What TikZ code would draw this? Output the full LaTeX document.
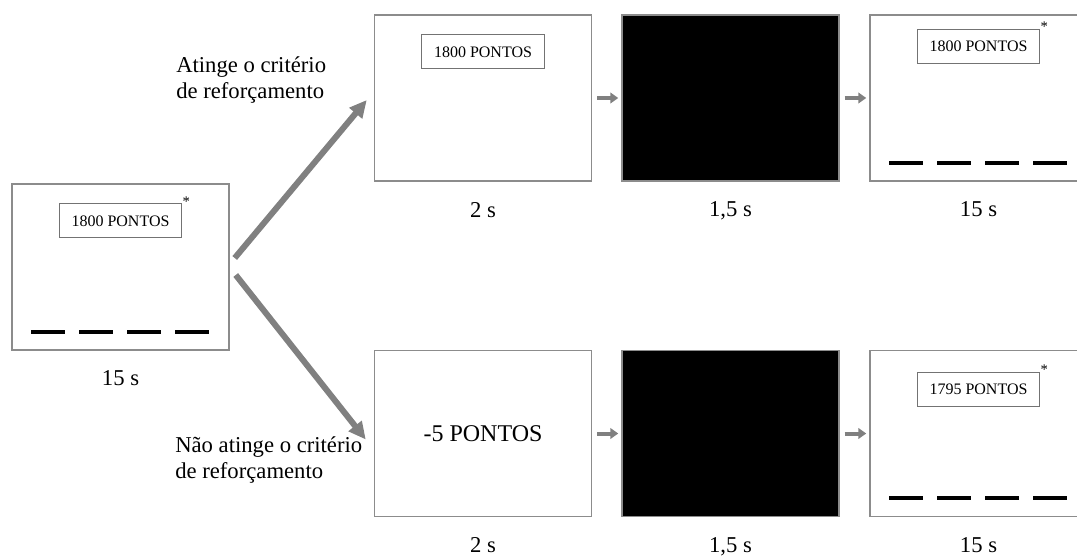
\documentclass[tikz,border=0pt]{standalone}
\usepackage{fontspec}
\setmainfont{LiberationSerif-Regular.ttf}
\newfontfamily\timesface{LiberationSerif-Regular.ttf}
\usetikzlibrary{positioning,calc,arrows.meta}

\begin{document}
\begin{tikzpicture}
[x=0.75pt,y=-0.75pt,%
  every node/.style={font=\timesface},%
  screen/.style={draw=black!45,line width=1.1pt,minimum width=162.75pt,minimum height=124.5pt,inner sep=0pt},%
  blank/.style={screen,fill=black},%
  score/.style={draw=black!55,line width=0.8pt,minimum width=92pt,minimum height=25.5pt,inner sep=0pt,font=\timesface\fontsize{12}{14}\selectfont},%
  star/.style={anchor=south west,inner sep=0pt,yshift=-2.5pt,font=\timesface\fontsize{11}{11}\selectfont},%
  slot/.style={line width=3pt},%
  dur/.style={inner sep=0pt,font=\timesface\fontsize{17}{20}\selectfont},%
  cond/.style={anchor=west,align=left,inner sep=0pt,font=\timesface\fontsize{17}{19.5}\selectfont},%
  bigarrow/.style={black!50,line width=4.5pt,-{Triangle[length=13pt,width=12pt]}},%
  smallarrow/.style={black!50,line width=3pt,-{Triangle[length=6pt,width=8pt]},shorten <=3.75pt,shorten >=2.25pt}]
\clip (0,0) rectangle (1077,556);
\node[screen] (s0) at (120.5,267) {};
\node[screen] (t1) at (483,98) {};
\node[blank] (t2) at (730.5,98) {};
\node[screen] (t3) at (978.5,98) {};
\node[screen,font=\timesface\fontsize{18}{20}\selectfont] (b1) at (483,433.5) {-5 PONTOS};
\node[blank] (b2) at (730.5,433.5) {};
\node[screen] (b3) at (978.5,433.5) {};

\node[score,below=15pt of s0.north] (p0) {1800 PONTOS};
\node[score,below=15pt of t1.north] (p1) {1800 PONTOS};
\node[score,below=11pt of t3.north] (p3) {1800 PONTOS};
\node[score,below=16.5pt of b3.north] (p4) {1795 PONTOS};
\node[star] (a0) at (p0.north east) {*};
\node[star] (a3) at (p3.north east) {*};
\node[star] (a4) at (p4.north east) {*};

\foreach \s in {s0,t3,b3}
  \foreach \i in {0,...,3}
    \draw[slot] ($(\s.south west)+(20+48*\i,-19)$) -- ++(34,0);

\node[dur,below=15pt of s0] (d0) {15 s};
\node[dur,below=15pt of t1] (d1) {2 s};
\node[dur,below=15pt of t2] (d2) {1,5 s};
\node[dur,below=15pt of t3] (d3) {15 s};
\node[dur,below=15pt of b1] (d4) {2 s};
\node[dur,below=15pt of b2] (d5) {1,5 s};
\node[dur,below=15pt of b3] (d6) {15 s};

\node[cond] (c1) at (176,80) {Atinge o critério\\de reforçamento};
\node[cond] (c2) at (175,460) {Não atinge o critério\\de reforçamento};

\draw[bigarrow] ([shift={(5,-9)}]s0.east) -- ([shift={(-7,2)}]t1.west);
\draw[bigarrow] ([shift={(6,8)}]s0.east) -- ([shift={(-8,6)}]b1.west);
\path
(t1) edge[smallarrow] (t2)
(t2) edge[smallarrow] (t3)
(b1) edge[smallarrow] (b2)
(b2) edge[smallarrow] (b3);
\end{tikzpicture}
\end{document}
